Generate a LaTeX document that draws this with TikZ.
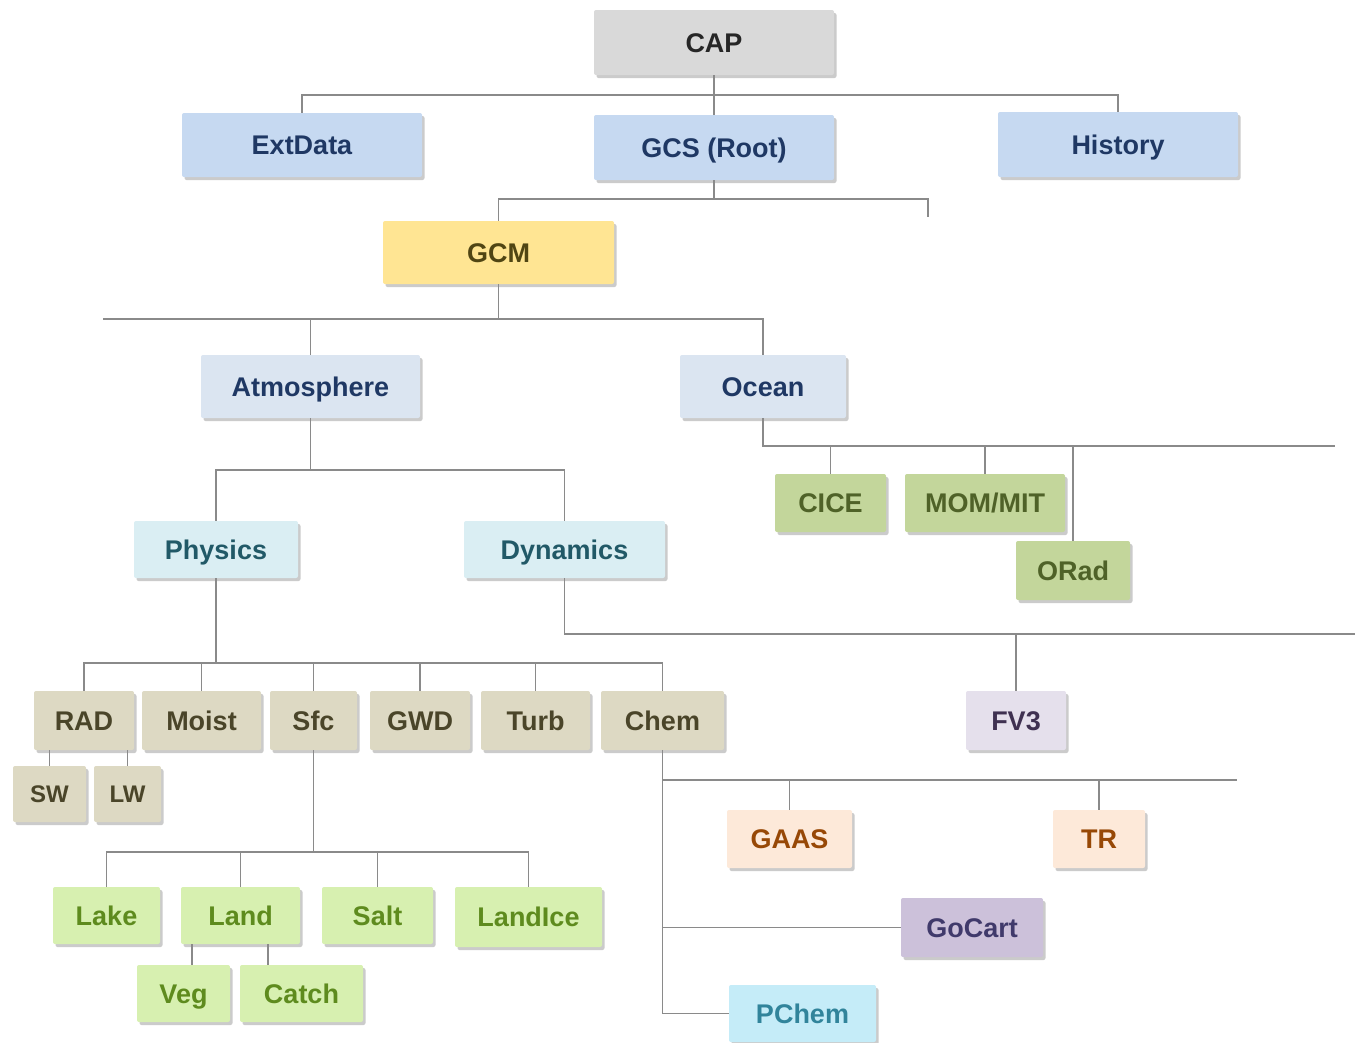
\documentclass[tikz,border=0pt]{standalone}
\usepackage{fontspec}
\setmainfont{Liberation Sans}
\usetikzlibrary{shadows}
\definecolor{cgray}{HTML}{D9D9D9}\definecolor{tgray}{HTML}{262626}
\definecolor{cblueA}{HTML}{C6D9F1}\definecolor{tblue}{HTML}{1F3864}
\definecolor{cyel}{HTML}{FFE593}\definecolor{tyel}{HTML}{504513}
\definecolor{cblueB}{HTML}{DBE5F1}
\definecolor{ccyan}{HTML}{DAEEF3}\definecolor{tcyan}{HTML}{215967}
\definecolor{cgreen}{HTML}{C3D69B}\definecolor{tgreen}{HTML}{4F6228}
\definecolor{ctan}{HTML}{DDD9C3}\definecolor{ttan}{HTML}{4A4529}
\definecolor{clav}{HTML}{E5E0EC}\definecolor{tlav}{HTML}{3F3151}
\definecolor{cpeach}{HTML}{FDE9D9}\definecolor{tpeach}{HTML}{974806}
\definecolor{cpurp}{HTML}{CCC1DA}\definecolor{tpurp}{HTML}{403A6B}
\definecolor{cpch}{HTML}{C5ECF8}\definecolor{tpch}{HTML}{31849B}
\definecolor{clg}{HTML}{D7F0B0}\definecolor{tlg}{HTML}{5E8B1E}
\definecolor{cline}{HTML}{8A8A8A}
\tikzset{
  bx/.style n args={4}{fill=#1, text=#2, minimum width=#3, minimum height=#4,
    inner sep=0pt, rounded corners=2pt, font=\bfseries\fontsize{27}{30}\selectfont,
    text height=19.3pt, text depth=0pt,
    drop shadow={shadow xshift=2.5pt, shadow yshift=-3pt, fill=black!40, opacity=0.5}},
  small/.style={font=\bfseries\fontsize{24}{27}\selectfont, text height=17.2pt},
  conn/.style={draw=cline, line width=1.3pt}
}
\begin{document}
\begin{tikzpicture}[x=1pt,y=-1pt]
\useasboundingbox[fill=white] (0,0) rectangle (1355,1042);
% nodes
\node[bx={cgray}{tgray}{240pt}{65pt}] (cap) at (714,42.5) {CAP};
\node[bx={cblueA}{tblue}{240pt}{64pt}] (extdata) at (302,145) {ExtData};
\node[bx={cblueA}{tblue}{240pt}{65pt}] (gcs) at (714,147.5) {GCS (Root)};
\node[bx={cblueA}{tblue}{240pt}{65pt}] (history) at (1118,144.5) {History};
\node[bx={cyel}{tyel}{231pt}{63pt}] (gcm) at (498.5,252.5) {GCM};
\node[bx={cblueB}{tblue}{219pt}{63pt}] (atmos) at (310.5,386.5) {Atmosphere};
\node[bx={cblueB}{tblue}{166pt}{63pt}] (ocean) at (763,386.5) {Ocean};
\node[bx={ccyan}{tcyan}{164pt}{57pt}] (physics) at (216,549.5) {Physics};
\node[bx={ccyan}{tcyan}{201pt}{57pt}] (dynamics) at (564.5,549.5) {Dynamics};
\node[bx={cgreen}{tgreen}{111pt}{58pt}] (cice) at (830.5,503) {CICE};
\node[bx={cgreen}{tgreen}{160pt}{58pt}] (mom) at (985,503) {MOM/MIT};
\node[bx={cgreen}{tgreen}{114pt}{59pt}] (orad) at (1073,570.5) {ORad};
\node[bx={ctan}{ttan}{100pt}{59pt}] (rad) at (84,720.5) {RAD};
\node[bx={ctan}{ttan}{119pt}{59pt}] (moist) at (201.5,720.5) {Moist};
\node[bx={ctan}{ttan}{87pt}{59pt}] (sfc) at (313.5,720.5) {Sfc};
\node[bx={ctan}{ttan}{100pt}{59pt}] (gwd) at (420,720.5) {GWD};
\node[bx={ctan}{ttan}{109pt}{59pt}] (turb) at (535.5,720.5) {Turb};
\node[bx={ctan}{ttan}{123pt}{59pt}] (chem) at (662.5,720.5) {Chem};
\node[bx={ctan}{ttan}{73pt}{56pt},small] (sw) at (49.5,794) {SW};
\node[bx={ctan}{ttan}{67pt}{56pt},small] (lw) at (127.5,794) {LW};
\node[bx={clav}{tlav}{100pt}{59pt}] (fv3) at (1016,720.5) {FV3};
\node[bx={cpeach}{tpeach}{125pt}{58pt}] (gaas) at (789.5,839) {GAAS};
\node[bx={cpeach}{tpeach}{92pt}{58pt}] (tr) at (1099,839) {TR};
\node[bx={cpurp}{tpurp}{142pt}{59pt}] (gocart) at (972,927.5) {GoCart};
\node[bx={cpch}{tpch}{147pt}{57pt}] (pchem) at (802.5,1013.5) {PChem};
\node[bx={clg}{tlg}{107pt}{57pt}] (lake) at (106.5,915.5) {Lake};
\node[bx={clg}{tlg}{119pt}{57pt}] (land) at (240.5,915.5) {Land};
\node[bx={clg}{tlg}{111pt}{57pt}] (salt) at (377.5,915.5) {Salt};
\node[bx={clg}{tlg}{147pt}{60pt}] (landice) at (528.5,917) {LandIce};
\node[bx={clg}{tlg}{93pt}{57pt}] (veg) at (183.5,993.5) {Veg};
\node[bx={clg}{tlg}{123pt}{57pt}] (catch) at (301.5,993.5) {Catch};
% bus coordinates
\coordinate (b1) at (714,95);
\coordinate (b2) at (714,199);
\coordinate (g2end) at (928,217);
\coordinate (b3) at (498.5,319);
\coordinate (b3l) at (103,319);
\coordinate (b4) at (310.5,470);
\coordinate (b5) at (763,446);
\coordinate (b5r) at (1335,446);
\coordinate (b6) at (216,663);
\coordinate (b7) at (564.5,634);
\coordinate (b7r) at (1355,634);
\coordinate (b8) at (313.5,852);
\coordinate (vx) at (192,0);
\coordinate (cx) at (268,0);
\coordinate (b9) at (662.5,780);
\coordinate (b9r) at (1237,780);
\coordinate (b9c) at (662.5,1013.5);
% connectors
\begin{scope}[conn]
\draw (cap.south) -- (b1);
\draw (extdata.north) |- (b1) -| (history.north);
\draw (b1) -- (gcs.north);
\draw (gcs.south) -- (b2);
\draw (gcm.north) |- (b2) -| (g2end);
\draw (gcm.south) -- (b3);
\draw (b3l) -- (b3) -| (ocean.north);
\draw (atmos.north) -- (atmos.north |- b3);
\draw (atmos.south) -- (b4);
\draw (physics.north) |- (b4) -| (dynamics.north);
\draw (ocean.south) -- (b5) -- (b5r);
\draw (cice.north) -- (cice.north |- b5);
\draw (mom.north) -- (mom.north |- b5);
\draw (orad.north) -- (orad.north |- b5);
\draw (physics.south) -- (b6);
\draw (rad.north) |- (b6) -| (chem.north);
\draw (moist.north) -- (moist.north |- b6);
\draw (sfc.north) -- (sfc.north |- b6);
\draw (gwd.north) -- (gwd.north |- b6);
\draw (turb.north) -- (turb.north |- b6);
\draw (dynamics.south) -- (b7) -- (b7r);
\draw (fv3.north) -- (fv3.north |- b7);
\draw (sw.north) -- (sw.north |- rad.south);
\draw (lw.north) -- (lw.north |- rad.south);
\draw (sfc.south) -- (b8);
\draw (lake.north) |- (b8) -| (landice.north);
\draw (land.north) -- (land.north |- b8);
\draw (salt.north) -- (salt.north |- b8);
\draw (land.south -| vx) -- (veg.north -| vx);
\draw (land.south -| cx) -- (catch.north -| cx);
\draw (chem.south) -- (b9c) -- (pchem.west);
\draw (b9) -- (b9r);
\draw (gaas.north) -- (gaas.north |- b9);
\draw (tr.north) -- (tr.north |- b9);
\draw (gocart.west) -- (gocart.west -| b9);
\end{scope}
\end{tikzpicture}
\end{document}
